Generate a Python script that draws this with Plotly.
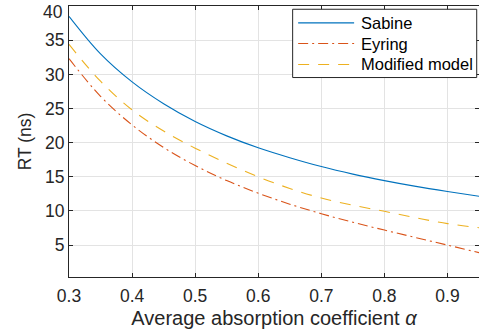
import plotly.graph_objects as go

alpha = [0.30, 0.35, 0.40, 0.45, 0.50, 0.55, 0.60, 0.65, 0.70, 0.75, 0.80, 0.85, 0.90, 0.95]
sabine = [38.5, 33.0, 28.9, 25.7, 23.1, 21.0, 19.25, 17.8, 16.5, 15.4, 14.45, 13.6, 12.85, 12.15]
eyring = [32.3, 26.8, 22.6, 19.3, 16.65, 14.45, 12.6, 11.0, 9.6, 8.35, 7.2, 6.1, 5.0, 3.9]
modified = [34.4, 29.0, 24.8, 21.7, 19.2, 17.0, 15.0, 13.3, 11.9, 10.85, 9.95, 9.0, 8.15, 7.55]

x_ticks = [0.3, 0.4, 0.5, 0.6, 0.7, 0.8, 0.9]
y_ticks = [5, 10, 15, 20, 25, 30, 35, 40]

names = ["Sabine", "Eyring", "Modified model"]
colors = ["#0072BD", "#D95319", "#EDB120"]
dashes = ["solid", "10px,4px,2px,4px", "11px,9px"]

FONT = "Liberation Sans, Arial, Helvetica, sans-serif"
TXT = "#262626"

fig = go.Figure()
for name, ys, c, d in zip(names, [sabine, eyring, modified], colors, dashes):
    fig.add_trace(go.Scatter(x=alpha, y=ys, mode="lines", name=name,
                             line=dict(color=c, width=1.1, dash=d, shape="spline"),
                             showlegend=False, hoverinfo="skip"))

# manual legend (MATLAB style)
shapes = [dict(type="rect", xref="paper", yref="paper", x0=0.5455, x1=0.9944,
               y0=0.736, y1=0.988, line=dict(color=TXT, width=1), fillcolor="white", layer="above")]
annotations = []
rows = [0.9374, 0.8616, 0.7842]
for name, c, d, ry in zip(names, colors, dashes, rows):
    shapes.append(dict(type="line", xref="paper", yref="paper", x0=0.5589, x1=0.6954,
                       y0=ry, y1=ry, line=dict(color=c, width=1.2, dash=d), layer="above"))
    annotations.append(dict(xref="paper", yref="paper", x=0.7074, y=ry, text=name,
                            showarrow=False, xanchor="left", yanchor="middle",
                            font=dict(family=FONT, size=16.5, color="black")))

# top tick label (plotly hides labels that overflow the page edge)
annotations.append(dict(xref="paper", yref="y", x=0, y=y_ticks[-1], text=str(y_ticks[-1]),
                        showarrow=False, xanchor="right", yanchor="top", xshift=-4, yshift=6,
                        font=dict(family=FONT, size=17.5, color=TXT)))

fig.update_layout(
    width=479, height=332,
    margin=dict(l=69, r=0, t=6, b=55),
    paper_bgcolor="white", plot_bgcolor="white",
    font=dict(family=FONT, size=17.5, color=TXT),
    shapes=shapes, annotations=annotations,
    xaxis=dict(range=[0.3, 0.95], tickvals=x_ticks,
               ticktext=[f"{v:.1f}" for v in x_ticks],
               automargin=False, ticklabelstandoff=3,
               showgrid=True, gridcolor="#e3e3e3", gridwidth=1,
               showline=True, linecolor=TXT, linewidth=1, mirror="ticks",
               ticks="inside", ticklen=4, tickcolor=TXT, zeroline=False,
               title=dict(text="Average absorption coefficient <i>α</i>", font=dict(size=20), standoff=5)),
    yaxis=dict(range=[0.33, 40.02], tickvals=y_ticks,
               automargin=False,
               showgrid=True, gridcolor="#e3e3e3", gridwidth=1,
               showline=True, linecolor=TXT, linewidth=1, mirror="ticks",
               ticks="inside", ticklen=4, tickcolor=TXT, zeroline=False,
               title=dict(text="RT (ns)", font=dict(size=17.5), standoff=8)),
)

fig.write_html("out.html", config={"displayModeBar": False, "staticPlot": True},
               post_script="document.body.style.margin='0';document.body.style.overflow='hidden';")
